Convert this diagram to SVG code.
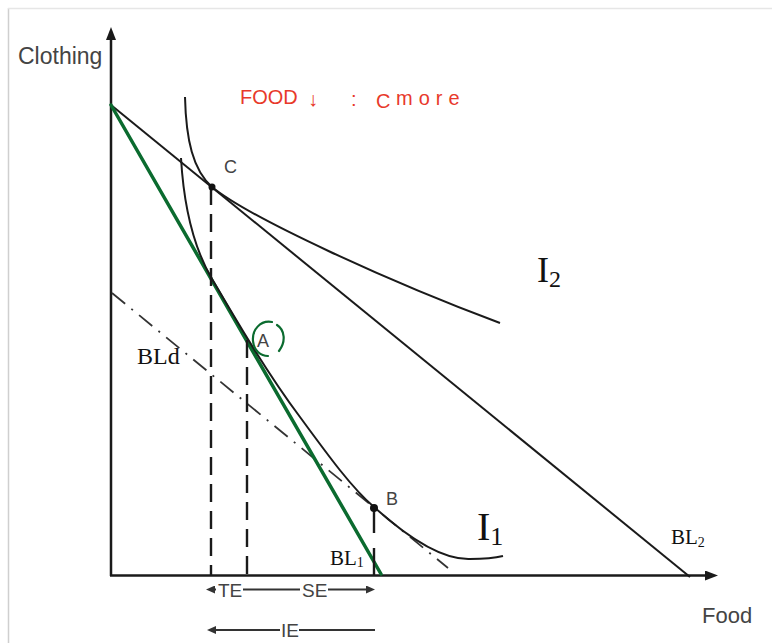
<svg xmlns="http://www.w3.org/2000/svg" width="772" height="643" viewBox="0 0 772 643">
<style>
.frame{stroke:#cfcfcf;stroke-width:1.5;fill:none}
.ax{stroke:#1a1a1a;stroke-width:2.5;fill:none}
.ln{stroke:#1a1a1a;stroke-width:2;fill:none}
.cv{stroke:#1a1a1a;stroke-width:2;fill:none}
.green{stroke:#0b6b2f;stroke-width:3.5;fill:none;stroke-linecap:round}
.dash{stroke:#1a1a1a;stroke-width:2.4;stroke-dasharray:18 9;fill:none}
.dd{stroke:#333;stroke-width:1.8;stroke-dasharray:17 8 2 8;fill:none}
.eff{stroke:#333;stroke-width:2;fill:none}
.sans{font-family:"Liberation Sans",Arial,sans-serif;fill:#444}
.serif{font-family:"Liberation Serif","Times New Roman",serif;fill:#111}
.hand{font-family:"Liberation Sans",Arial,sans-serif;fill:#e8392a;font-size:20px}
.dot{fill:#111}
</style>
<defs>
<marker id="axh" viewBox="0 0 13 10" refX="0" refY="5" markerWidth="13" markerHeight="10" markerUnits="userSpaceOnUse" orient="auto">
<path d="M0,0 L13,5 L0,10 z" fill="#1a1a1a"/>
</marker>
<marker id="eh" viewBox="0 0 9 8" refX="0" refY="4" markerWidth="9" markerHeight="8" markerUnits="userSpaceOnUse" orient="auto">
<path d="M0,0 L9,4 L0,8 z" fill="#333"/>
</marker>
</defs>
<rect width="772" height="643" fill="#ffffff"/>
<g id="frame">
<line class="frame" x1="8.5" y1="8" x2="8.5" y2="643"/>
<line class="frame" x1="8" y1="8.5" x2="772" y2="8.5" style="stroke:#e6e6e6"/>
</g>
<g id="axes">
<line class="ax" x1="111" y1="576" x2="111" y2="40" marker-end="url(#axh)"/>
<line class="ax" x1="110" y1="575.5" x2="705" y2="575.5" marker-end="url(#axh)"/>
<text class="sans" x="18" y="64" font-size="23">Clothing</text>
<text class="sans" x="702" y="623" font-size="22">Food</text>
</g>
<g id="connectors">
<line id="BL2-line" class="ln" x1="111" y1="105" x2="690" y2="577"/>
<line id="BLd-line" class="dd" x1="112" y1="293" x2="448" y2="568"/>
<line id="green-line" class="green" x1="111" y1="105" x2="381" y2="574"/>
<line class="dash" x1="211" y1="187" x2="211" y2="575"/>
<line class="dash" x1="247" y1="340" x2="247" y2="575"/>
<line class="dash" x1="374" y1="508" x2="374" y2="575" style="stroke-dasharray:25 15 30"/>
</g>
<g id="I2">
<path class="cv" d="M185,97 C186,140 193,170 212,187 C250,218 390,282 500,323"/>
<text class="serif" x="537" y="282" font-size="36">I<tspan font-size="24" dy="5">2</tspan></text>
</g>
<g id="I1">
<path class="cv" d="M181,158 C184,210 195,250 212,279 C235,318 265,370 300,417 C330,458 352,488 374,507 C405,535 440,560 470,559 C485,559 495,558 503,556"/>
<text class="serif" x="477" y="540" font-size="40">I<tspan font-size="26" dy="5">1</tspan></text>
</g>
<g id="point-C">
<circle class="dot" cx="212" cy="187" r="3.5"/>
<text class="sans" x="224" y="173" font-size="18">C</text>
</g>
<g id="point-A">
<text class="sans" x="257" y="347" font-size="18">A</text>
<path d="M272,322 C260,320 252,330 253,341 C254,351 261,356 268,356 M277,325 C285,330 286,342 279,351" stroke="#0b6b2f" stroke-width="2.2" fill="none" stroke-linecap="round"/>
</g>
<g id="point-B">
<circle class="dot" cx="374" cy="508" r="4"/>
<text class="sans" x="386" y="505" font-size="18">B</text>
</g>
<g id="labels">
<text class="serif" x="137" y="364" font-size="24">BLd</text>
<text class="serif" x="330" y="565" font-size="21">BL<tspan font-size="14" dy="2">1</tspan></text>
<text class="serif" x="671" y="544" font-size="21">BL<tspan font-size="14" dy="3">2</tspan></text>
</g>
<g id="effects">
<path class="eff" d="M216,589.5 L215,589.5" marker-end="url(#eh)"/>
<text class="sans" x="218" y="597" font-size="19">TE</text>
<line class="eff" x1="243" y1="589.5" x2="300" y2="589.5"/>
<text class="sans" x="302" y="597" font-size="19">SE</text>
<line class="eff" x1="328" y1="589.5" x2="366" y2="589.5" marker-end="url(#eh)"/>
<line class="eff" x1="280" y1="630" x2="216" y2="630" marker-end="url(#eh)"/>
<text class="sans" x="281" y="637" font-size="19">IE</text>
<line class="eff" x1="299" y1="630" x2="375" y2="630"/>
</g>
<g id="annotation">
<text class="hand" x="240" y="104">FOOD</text>
<text class="hand" x="308" y="106" font-size="22">↓</text>
<text class="hand" x="351" y="106">:</text>
<text class="hand" x="376" y="108" font-size="22">C</text>
<text class="hand" x="396" y="105" font-size="21" letter-spacing="6">more</text>
</g>
</svg>
